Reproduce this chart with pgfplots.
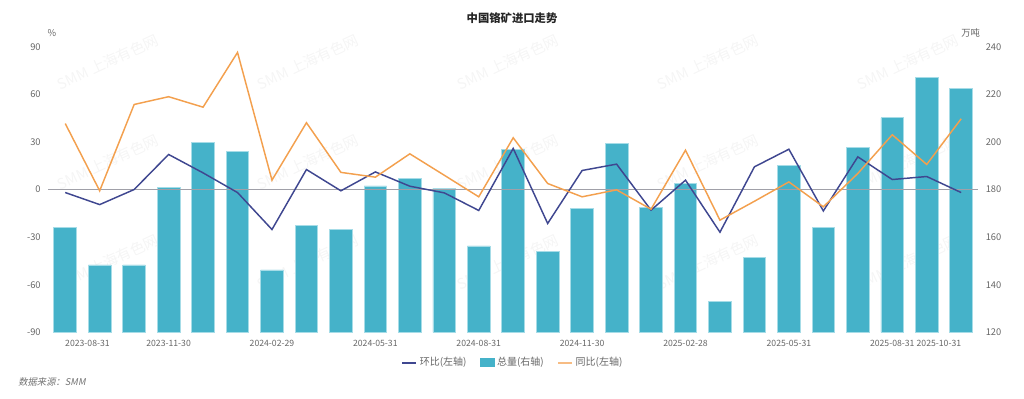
\documentclass[border=0pt]{standalone}
\usepackage{fontspec}
\setmainfont{Noto Sans CJK SC}
\newfontfamily\noteit[FakeSlant=0.2]{Noto Sans CJK SC}
\usepackage{pgfplots}
\pgfplotsset{compat=1.18}
\usepackage{pgfplotstable}
\definecolor{barc}{HTML}{45B2C9}
\definecolor{bared}{HTML}{A6DCE7}
\definecolor{momc}{HTML}{3F4790}
\definecolor{yoyc}{HTML}{F3A04E}
\definecolor{tickc}{HTML}{666666}
\definecolor{zeroc}{HTML}{A0A0A8}
\pgfplotstableread{
x total mom yoy
0 164.2 -1.9 41.6
1 148.3 -9.5 -0.8
2 148.3 0.0 53.6
3 180.9 22.1 58.5
4 199.8 10.5 51.9
5 195.9 -1.9 86.4
6 146.2 -25.2 5.9
7 164.8 12.6 42.1
8 163.4 -0.8 10.8
9 181.5 11.1 7.8
10 184.7 2.1 22.5
11 180.6 -2.1 9.0
12 156.3 -13.2 -4.6
13 196.8 25.9 32.6
14 153.8 -21.4 3.8
15 172.1 12.0 -4.6
16 199.4 16.0 -0.2
17 172.3 -13.0 -12.4
18 182.6 5.9 24.8
19 132.9 -26.9 -19.3
20 151.6 14.3 -7.4
21 190.1 25.4 4.8
22 164.2 -13.5 -10.9
23 197.7 20.6 10.1
24 210.1 6.3 34.5
25 227.1 8.2 15.8
26 222.3 -1.9 44.6
}\datatable
\begin{document}
\begin{tikzpicture}
\useasboundingbox (0,0) rectangle (768pt,299.25pt);
% watermarks
\foreach \wx in {108,308,508,708,908}{
  \foreach \wy in {62,162,262}{
    \node[rotate=25, text=black!4, font=\fontsize{11}{12}\selectfont] at (\wx*0.75pt, {(399-\wy)*0.75pt}) {SMM 上海有色网};
  }
}
\pgfplotsset{
  every axis/.style={
    at={(36pt,50pt)}, anchor=south west,
    scale only axis, width=697.8pt, height=214.2pt,
    xmin=-0.5, xmax=26.5,
    major tick length=0pt,
    axis line style={draw=none},
    ticklabel style={font=\fontsize{7}{8.5}\selectfont, text=tickc},
    /pgf/number format/assume math mode=true,
  }
}
% bars (right axis)
\begin{axis}[
  axis y line*=right,
  ymin=120, ymax=240, ytick={120,140,...,240},
  xtick={0,3,6,9,12,15,18,21,24,26},
  xticklabels={\makebox[0pt][l]{2023-08-31},2023-11-30,2024-02-29,2024-05-31,2024-08-31,2024-11-30,2025-02-28,2025-05-31,2025-08-31,\makebox[0pt][r]{2025-10-31}},
  xticklabel style={yshift=-2pt, font=\fontsize{6.5}{8}\selectfont},
  yticklabel style={xshift=2pt},
  ybar, bar width=17pt,
]
\addplot[fill=barc, draw=bared, line width=0.6pt] table[x=x,y=total]{\datatable};
\end{axis}
% lines (left axis)
\begin{axis}[
  axis y line*=left,
  ymin=-90, ymax=90, ytick={-90,-60,...,90},
  xtick=\empty,
  yticklabel style={xshift=-2pt},
  legend style={at={(0.5,0)}, anchor=center, yshift=-22.8pt, draw=none, fill=none,
    font=\fontsize{7.5}{9}\selectfont, text=tickc, legend columns=3,
    /tikz/every even column/.append style={column sep=8pt}},
  legend cell align=left,
]
\addlegendimage{legend image code/.code={\draw[momc, line width=1.4pt] (0pt,0pt) -- (10.5pt,0pt);}}
\addlegendimage{legend image code/.code={\fill[barc] (0pt,-3pt) rectangle (10.5pt,3pt);}}
\addlegendimage{legend image code/.code={\draw[yoyc!70, line width=1.4pt] (0pt,0pt) -- (10.5pt,0pt);}}
\addplot[zeroc, line width=0.8pt, forget plot] coordinates {(-0.5,0) (26.5,0)};
\addplot[momc, line width=1.1pt, forget plot] table[x=x,y=mom]{\datatable};
\addplot[yoyc, line width=1.1pt, forget plot] table[x=x,y=yoy]{\datatable};
\legend{环比(左轴),总量(右轴),同比(左轴)}
\end{axis}
\node[font=\bfseries\fontsize{8.5}{10}\selectfont, text=black!85] at (384pt,285.75pt) {中国铬矿进口走势};
\node[font=\fontsize{7}{8}\selectfont, text=tickc] at (39pt,274.5pt) {\%};
\node[font=\fontsize{7}{8}\selectfont, text=tickc] at (728pt,274.5pt) {万吨};
\node[font=\noteit\fontsize{7}{8}\selectfont, text=black!55, anchor=west, inner sep=0pt] at (13.5pt,12.75pt) {数据来源：SMM};
\end{tikzpicture}
\end{document}
